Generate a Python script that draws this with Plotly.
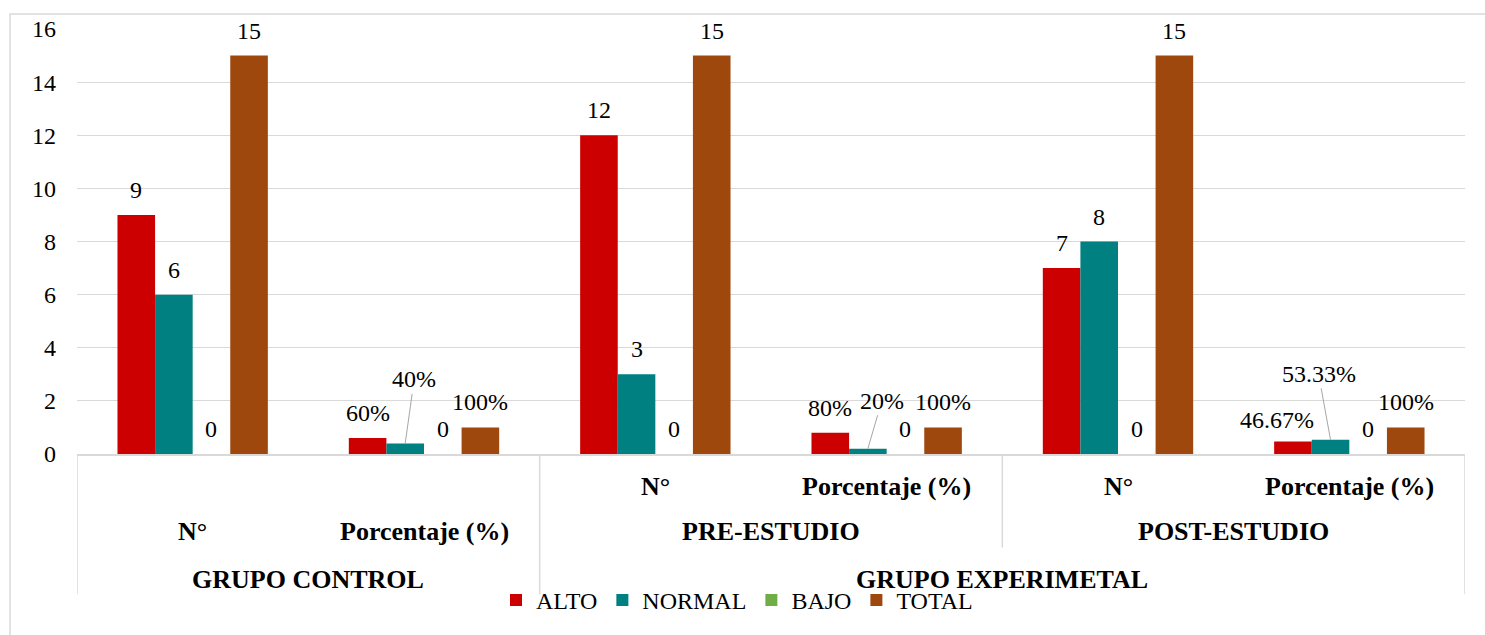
import plotly.graph_objects as go

# ---------------- data ----------------
groups = ["GRUPO CONTROL", "GRUPO CONTROL", "GRUPO EXPERIMETAL",
          "GRUPO EXPERIMETAL", "GRUPO EXPERIMETAL", "GRUPO EXPERIMETAL"]
stages = ["", "", "PRE-ESTUDIO", "PRE-ESTUDIO", "POST-ESTUDIO", "POST-ESTUDIO"]
measures = ["N°", "Porcentaje (%)", "N°", "Porcentaje (%)", "N°", "Porcentaje (%)"]

series_names = ["ALTO", "NORMAL", "BAJO", "TOTAL"]
alto = [9, 0.6, 12, 0.8, 7, 0.4667]
normal = [6, 0.4, 3, 0.2, 8, 0.5333]
bajo = [0, 0, 0, 0, 0, 0]
total = [15, 1, 15, 1, 15, 1]
series_values = [alto, normal, bajo, total]
colors = ["#CC0000", "#008080", "#70AD47", "#9E480E"]

# ---------------- layout constants ----------------
W, H = 1485, 635
L, R, T, B = 77, 20, 29, 179
PLOT_W = W - L - R
PLOT_H = H - T - B
FONT = "Liberation Serif"
GRID = "#D9D9D9"


def py(p):  # pixel y -> paper y
    return (H - B - p) / PLOT_H


def px(p):  # pixel x -> paper x
    return (p - L) / PLOT_W


ncat = len(measures)
xs = list(range(ncat))
bargap = 0.35
nser = len(series_names)
bw = (1 - bargap) / nser

fig = go.Figure()
for name, vals, col in zip(series_names, series_values, colors):
    fig.add_trace(go.Bar(x=xs, y=vals, name=name, marker=dict(color=col, line=dict(width=0))))


def label_text(v, cat):
    if measures[cat].startswith("N"):
        return f"{v:g}"
    if v == 0:
        return "0"
    s = f"{v * 100:.2f}".rstrip("0").rstrip(".")
    return s + "%"


# label placement tweaks: (series, category) -> (dx, dy, leader)
label_pos = {
    (1, 1): (9, 64, True),
    (1, 3): (14, 48, True),
    (1, 5): (-12, 66, True),
    (0, 5): (-16, 22, False),
}

annotations = []
for si, vals in enumerate(series_values):
    for ci, v in enumerate(vals):
        xc = ci - (1 - bargap) / 2 + bw * (si + 0.5)
        dx, dy, leader = label_pos.get((si, ci), (0, 25, False))
        txt = label_text(v, ci)
        if leader:
            annotations.append(dict(
                x=xc, y=v, xref="x", yref="y", text=txt, showarrow=True,
                ax=dx, ay=-dy, arrowhead=0, arrowwidth=1, arrowcolor="#A6A6A6",
                standoff=0, font=dict(family=FONT, size=24, color="black")))
        else:
            annotations.append(dict(
                x=xc, y=v, xref="x", yref="y", text=txt, showarrow=False,
                xshift=dx, yshift=dy, yanchor="middle",
                font=dict(family=FONT, size=24, color="black")))

# category labels (3 levels)
row_y = [487, 532, 580]
for ci in range(ncat):
    row = 0 if stages[ci] else 1
    annotations.append(dict(x=ci, y=py(row_y[row] + 2), xref="x", yref="paper",
                            text="<b>" + measures[ci] + "</b>", showarrow=False,
                            yanchor="middle", font=dict(family=FONT, size=26, color="black")))
seen = []
for ci in range(ncat):
    if stages[ci] and stages[ci] not in seen:
        seen.append(stages[ci])
        idx = [i for i in range(ncat) if stages[i] == stages[ci]]
        annotations.append(dict(x=sum(idx) / len(idx), y=py(row_y[1] + 2), xref="x", yref="paper",
                                text="<b>" + stages[ci] + "</b>", showarrow=False,
                                yanchor="middle", font=dict(family=FONT, size=26, color="black")))
seen = []
for ci in range(ncat):
    if groups[ci] not in seen:
        seen.append(groups[ci])
        idx = [i for i in range(ncat) if groups[i] == groups[ci]]
        annotations.append(dict(x=sum(idx) / len(idx), y=py(row_y[2] + 2), xref="x", yref="paper",
                                text="<b>" + groups[ci] + "</b>", showarrow=False,
                                yanchor="middle", font=dict(family=FONT, size=26, color="black")))

# separator lines
shapes = []
for ci in range(ncat + 1):
    xb = ci - 0.5
    if ci == 0 or ci == ncat or (groups[ci - 1] != groups[ci]):
        bottom = 597
    elif stages[ci - 1] != stages[ci]:
        bottom = 550
    else:
        continue
    shapes.append(dict(type="line", xref="x", yref="paper", x0=xb, x1=xb,
                       y0=0, y1=py(bottom), line=dict(color=GRID, width=1.5)))
# chart border
shapes.append(dict(type="rect", xref="paper", yref="paper",
                   x0=px(10), x1=px(W + 10), y0=py(H + 10), y1=py(14),
                   line=dict(color=GRID, width=1.5), layer="below"))

fig.update_layout(
    width=W, height=H,
    margin=dict(l=L, r=R, t=T, b=B),
    paper_bgcolor="white", plot_bgcolor="white",
    barmode="group", bargap=bargap, bargroupgap=0,
    showlegend=True,
    legend=dict(orientation="h", x=px(737), xanchor="center", y=py(603), yanchor="middle",
                font=dict(family=FONT, size=24, color="black"), bgcolor="rgba(0,0,0,0)",
                traceorder="normal"),
    annotations=annotations,
    shapes=shapes,
)
fig.update_xaxes(range=[-0.5, ncat - 0.5], showticklabels=False, showgrid=False,
                 zeroline=False, showline=True, linecolor=GRID, linewidth=1.5, ticks="")
fig.update_yaxes(range=[0, 16], dtick=2, showgrid=True, gridcolor=GRID, gridwidth=1,
                 zeroline=False, showline=False, ticks="", ticklabelstandoff=20,
                 tickfont=dict(family=FONT, size=24, color="black"))

fig.write_html("out.html")
